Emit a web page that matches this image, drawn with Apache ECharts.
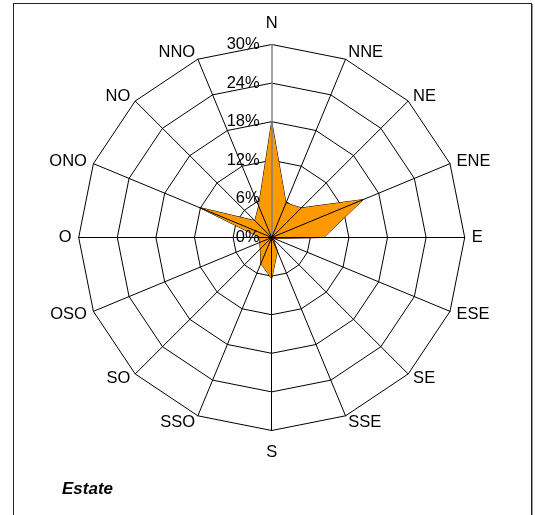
<!DOCTYPE html>
<html><head><meta charset="utf-8">
<script src="https://cdn.jsdelivr.net/npm/echarts@6/dist/echarts.min.js"></script>
<style>
html,body{margin:0;padding:0;background:#fff;}
#frame{position:absolute;left:13px;top:3px;width:517px;height:530px;border:1px solid #222;box-shadow:1px 1px 0 #999;}
#chart{position:absolute;left:0;top:0;width:535px;height:515px;}
</style></head>
<body>
<div id="frame"></div>
<div id="chart"></div>
<script>
// clockwise from North
const directions = ['N','NNE','NE','ENE','E','ESE','SE','SSE','S','SSO','SO','OSO','O','ONO','NO','NNO'];
const estateValues = [18, 5.8, 6.5, 15.4, 8.1, 0.4, 0.4, 2.3, 6.4, 4.4, 2.5, 2.0, 1.8, 12.2, 3.7, 5.3];
const axisMax = 30;
const tickStep = 6;
const seriesName = 'Estate';

const font = 'Liberation Sans, Arial, sans-serif';
const center = [271.7, 237.5];
const radius = 193;

// ECharts radar runs counter-clockwise: reorder so the picture runs clockwise
const order = [0].concat(directions.map((d, i) => i).slice(1).reverse());

function indicators(forLabels) {
  return order.map((idx, k) => {
    const d = directions[idx];
    const o = { name: d, min: 0, max: axisMax };
    if (d === 'N' || d === 'S') o.nameGap = 13;
    if (forLabels && k === 0) {
      o.axisLabel = { show: true };
      o.axisLine = { lineStyle: { color: '#808080', width: 1.5 } };
    }
    return o;
  });
}

const chart = echarts.init(document.getElementById('chart'), null, { renderer: 'canvas' });
chart.setOption({
  animation: false,
  title: {
    text: seriesName, left: 57, top: 476,
    textStyle: { fontFamily: font, fontSize: 17, fontWeight: 'bold', fontStyle: 'italic', color: '#000' }
  },
  radar: [
    {
      center: center, radius: radius, shape: 'polygon', startAngle: 90,
      splitNumber: axisMax / tickStep,
      indicator: indicators(false),
      axisName: { color: '#000', fontFamily: font, fontSize: 16.5 },
      nameGap: 7,
      axisLine: { show: false },
      splitLine: { lineStyle: { color: '#000', width: 1 } },
      splitArea: { show: false },
      axisLabel: { show: false },
      z: 0
    },
    {
      center: center, radius: radius, shape: 'polygon', startAngle: 90,
      splitNumber: axisMax / tickStep,
      indicator: indicators(true),
      axisName: { show: false },
      axisLine: { show: true, lineStyle: { color: '#000', width: 1 } },
      splitLine: { show: false },
      splitArea: { show: false },
      axisTick: { show: false },
      axisLabel: { show: false, color: '#000', fontFamily: font, fontSize: 16.5, margin: 12,
        formatter: v => v + '%' },
      z: 5
    }
  ],
  series: [{
    type: 'radar', name: seriesName, radarIndex: 0, z: 2,
    symbol: 'none',
    lineStyle: { color: '#000', width: 1 },
    areaStyle: { color: '#FF9900', opacity: 1 },
    data: [{ value: order.map(i => estateValues[i]), name: seriesName }]
  }]
});
</script>
</body></html>
